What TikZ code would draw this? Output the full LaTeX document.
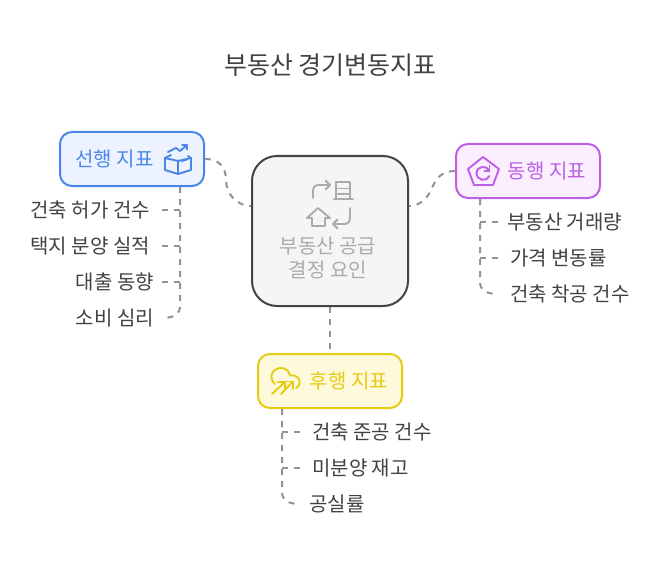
\documentclass[tikz,border=0pt]{standalone}
\usepackage{fontspec}
\setmainfont{Noto Sans CJK KR}
\usetikzlibrary{arrows.meta}
\definecolor{ink}{HTML}{424242}
\definecolor{edgegrey}{HTML}{939393}
\definecolor{bluel}{HTML}{4A86E8}\definecolor{bluef}{HTML}{ECF3FE}
\definecolor{purl}{HTML}{BC5FE6}\definecolor{purf}{HTML}{FAEEFF}
\definecolor{yell}{HTML}{E5CC12}\definecolor{yelf}{HTML}{FFF9DC}
\definecolor{midl}{HTML}{444444}\definecolor{midf}{HTML}{F5F5F5}\definecolor{midt}{HTML}{ABABAB}
\tikzset{
 x=1pt,y=-1pt,
 box/.style={draw,line width=2pt,rounded corners=12pt,minimum width=144pt,minimum height=54pt,inner sep=0pt},
 conn/.style={draw=edgegrey,line width=2pt,dash pattern=on 6pt off 6pt},
 txt/.style={font=\fontsize{20}{24}\selectfont,inner sep=0pt,text height=19pt,text depth=2pt},
 leafr/.style={txt,text=ink,anchor=east},
 leafl/.style={txt,text=ink,anchor=west},
 head/.style={txt},
 ico/.style={line width=1.9pt,line cap=round,line join=round,fill=none},
}
\begin{document}
\begin{tikzpicture}
\useasboundingbox (0,0) rectangle (660,564);
\fill[white] (0,0) rectangle (660,564);
\node[inner sep=0pt,text=ink,font=\fontsize{25}{30}\selectfont,text height=21pt,text depth=2pt] (title) at (330.5,65.5) {부동산 경기변동지표};
% boxes
\node[box,draw=midl,fill=midf,rounded corners=25pt,minimum width=156pt,minimum height=150pt] (mid) at (330,231) {};
\node[box,draw=bluel,fill=bluef] (lead) at (132,159) {};
\node[box,draw=purl,fill=purf] (coin) at (528,171) {};
\node[box,draw=yell,fill=yelf] (lag) at (330,381) {};
% box labels
\node[head,text=bluel] (leadt) at (114.5,158) {선행 지표};
\node[head,text=purl] (coint) at (547,170) {동행 지표};
\node[head,text=yell] (lagt) at (349,380) {후행 지표};
\node[text=midt,font=\fontsize{20}{24}\selectfont,inner sep=0pt,align=center] (midt) at (328,258) {부동산 공급\\결정 요인};
% leaves
\node[leafr] (a1) at (150,209) {건축 허가 건수};
\node[leafr] (a2) at (150,245) {택지 분양 실적};
\node[leafr] (a3) at (154,281) {대출 동향};
\node[leafr] (a4) at (154,317) {소비 심리};
\node[leafl] (b1) at (507,221) {부동산 거래량};
\node[leafl] (b2) at (510,257) {가격 변동률};
\node[leafl] (b3) at (510,293) {건축 착공 건수};
\node[leafl] (c1) at (312,431) {건축 준공 건수};
\node[leafl] (c2) at (312,467) {미분양 재고};
\node[leafl] (c3) at (309,503) {공실률};
% connector anchors
\path (lead.south) ++(48,0) coordinate (lt);
\path (coin.south) ++(-48,0) coordinate (ct);
\path (lag.south) ++(-48,0) coordinate (yt);
\coordinate (mw) at ([yshift=25pt]mid.west);
\coordinate (me) at ([yshift=25pt]mid.east);
% connectors
\draw[conn] (lead.east) .. controls (220,159) and (226,168) .. (226,180) .. controls (226,195) and (238,206) .. (mw);
\draw[conn] (coin.west) .. controls (442,171) and (436,178) .. (432,188) .. controls (428,198) and (420,206) .. (me);
\draw[conn] (mid.south) -- (lag.north);
\draw[conn] (lt) -- (180,306) .. controls (180,314) and (174,318) .. (162,318);
\draw[conn] (180,210) -- (162,210);
\draw[conn] (180,246) -- (162,246);
\draw[conn] (180,282) -- (162,282);
\draw[conn] (ct) -- (480,282) .. controls (480,290) and (486,294) .. (498,294);
\draw[conn] (480,222) -- (498,222);
\draw[conn] (480,258) -- (498,258);
\draw[conn] (yt) -- (282,492) .. controls (282,500) and (288,504) .. (300,504);
\draw[conn] (282,432) -- (300,432);
\draw[conn] (282,468) -- (300,468);
% icon lead
\draw[ico,draw=bluel] (165,158) -- (178,161) -- (191,158) -- (191,170) -- (178,174) -- (165,170) -- cycle;
\draw[ico,draw=bluel] (178,161) -- (178,174);
\draw[ico,draw=bluel] (165,158) -- (171,155);
\draw[ico,draw=bluel] (191,158) -- (188,156);
\draw[ico,draw=bluel] (168,152) -- (176,148) -- (180,151) -- (187,145);
\draw[ico,draw=bluel] (182,145) -- (187,145) -- (187,149.5);
\draw[ico,draw=bluel] (182,161) -- (187,159.5);
% icon coin
\draw[ico,draw=purl] (483,157) -- (499,169) -- (493,185) -- (474,185) -- (468,169) -- cycle;
\draw[ico,draw=purl] (489.5,171) .. controls (487,165) and (477,165.5) .. (476.5,173) .. controls (476.5,181) and (487,182) .. (489.5,176);
\draw[ico,draw=purl] (489.5,165.5) -- (489.5,171) -- (484.5,171);
% icon lag
\draw[ico,draw=yell] (275,384) .. controls (268,378) and (272,368) .. (281,368) .. controls (286,368) and (289,371) .. (290,375.5) .. controls (296,374) and (301,379) .. (299.5,384) .. controls (299,386) and (298,387) .. (296,388);
\draw[ico,draw=yell] (272,394) -- (285,382);
\draw[ico,draw=yell] (277.5,382) -- (285,382) -- (285,389.5);
\draw[ico,draw=yell] (281,394) -- (293,381.5);
\draw[ico,draw=yell] (285.5,381.5) -- (293,381.5) -- (293,389);
% icon mid
\draw[ico,draw=midt] (313,198) -- (313,191) .. controls (313,187) and (315,185) .. (319,185) -- (330,185);
\draw[ico,draw=midt] (325.5,180.5) -- (330,185) -- (325.5,189.5);
\draw[ico,draw=midt] (334,199) -- (353,199);
\draw[ico,draw=midt] (336,199) -- (336,182) -- (350,182) -- (350,199);
\draw[ico,draw=midt] (338,188.5) -- (349,188.5);
\draw[ico,draw=midt] (338,194) -- (349,194);
\draw[ico,draw=midt] (307,218) -- (318,208) -- (330,218) -- (325,218) -- (325,226) -- (312,226) -- (312,218) -- cycle;
\draw[ico,draw=midt] (350,208) -- (350,217) .. controls (350,222) and (348,224) .. (344,224) -- (333,224);
\draw[ico,draw=midt] (337.5,219.5) -- (333,224) -- (337.5,228.5);
\end{tikzpicture}
\end{document}
